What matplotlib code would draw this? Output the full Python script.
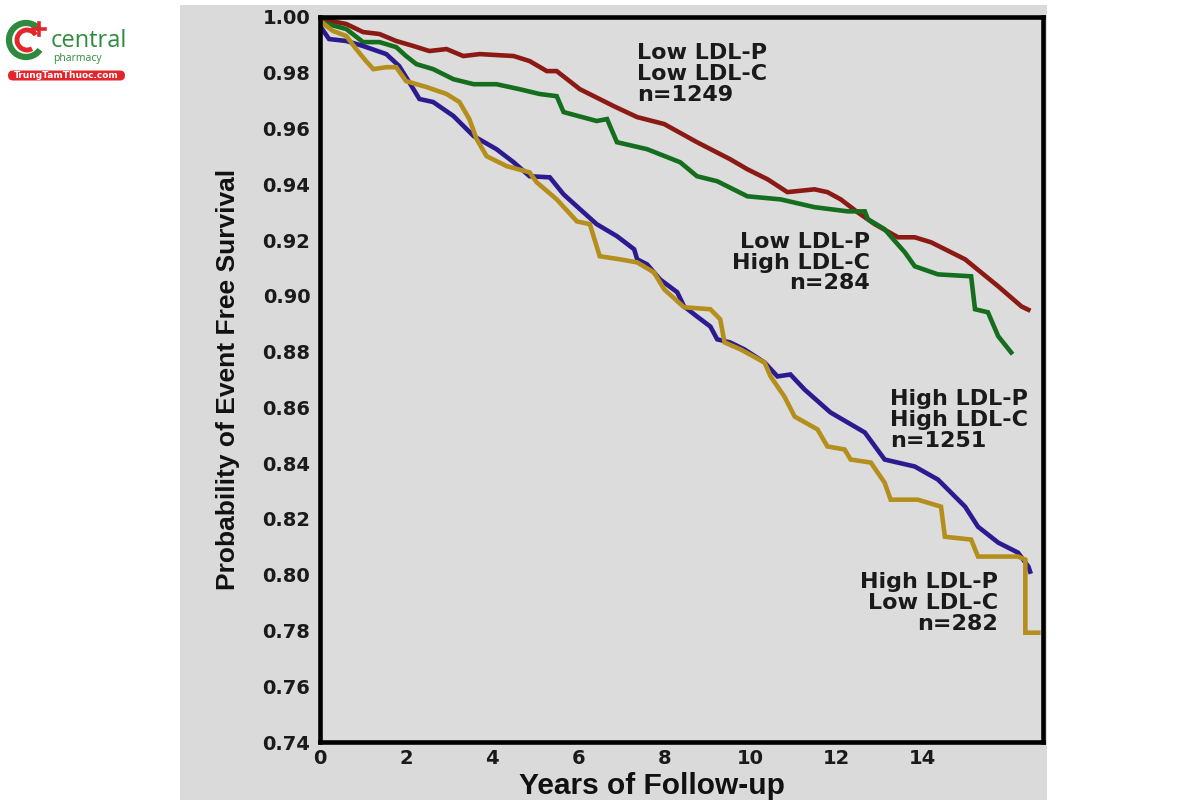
import matplotlib
matplotlib.use("Agg")
import matplotlib.pyplot as plt
from matplotlib.patches import Rectangle, FancyBboxPatch, Arc

# Kaplan-Meier style curves (years, survival)
t_lo_lo = [0, 0.61, 1.00, 1.38, 1.77, 2.17, 2.54, 2.94, 3.33, 3.71, 4.50, 4.87, 5.27, 5.50,
           6.04, 6.83, 7.37, 8.00, 8.76, 9.53, 9.93, 10.40, 10.86, 11.49, 11.79, 12.10,
           12.49, 12.89, 13.43, 13.82, 14.20, 14.99, 15.76, 16.30, 16.46]
s_lo_lo = [0.9993, 0.9975, 0.9946, 0.9939, 0.9914, 0.9896, 0.9878, 0.9885, 0.9860, 0.9867,
           0.9860, 0.9842, 0.9806, 0.9806, 0.9741, 0.9680, 0.9641, 0.9616, 0.9551, 0.9490,
           0.9454, 0.9418, 0.9372, 0.9382, 0.9372, 0.9346, 0.9300, 0.9257, 0.9210, 0.9210,
           0.9192, 0.9131, 0.9034, 0.8962, 0.8950]

t_lo_hi = [0, 0.61, 1.00, 1.38, 1.77, 2.00, 2.24, 2.63, 3.10, 3.57, 4.10, 4.64, 5.10, 5.50,
           5.66, 6.43, 6.67, 6.90, 7.60, 8.37, 8.76, 9.23, 9.93, 10.70, 11.49, 12.26, 12.66,
           12.73, 13.12, 13.36, 13.59, 13.82, 14.36, 15.13, 15.22, 15.52, 15.76, 16.06]
s_lo_hi = [0.9982, 0.9957, 0.9910, 0.9910, 0.9892, 0.9860, 0.9831, 0.9813, 0.9777, 0.9759,
           0.9759, 0.9741, 0.9724, 0.9716, 0.9659, 0.9627, 0.9634, 0.9551, 0.9526, 0.9479,
           0.9429, 0.9411, 0.9357, 0.9346, 0.9318, 0.9303, 0.9303, 0.9275, 0.9239, 0.9196,
           0.9156, 0.9106, 0.9077, 0.9070, 0.8952, 0.8941, 0.8855, 0.8797]

t_hi_hi = [0, 0.21, 0.61, 1.00, 1.54, 1.84, 2.07, 2.31, 2.63, 3.10, 3.57, 4.10, 4.50, 4.87,
           5.34, 5.66, 6.04, 6.43, 6.90, 7.30, 7.37, 7.60, 7.90, 8.30, 8.46, 8.76, 9.07, 9.23,
           9.53, 9.86, 10.33, 10.63, 10.93, 11.26, 11.86, 12.66, 13.12, 13.82, 14.36, 14.99,
           15.29, 15.76, 16.22, 16.46, 16.50]
s_hi_hi = [0.9968, 0.9921, 0.9914, 0.9896, 0.9867, 0.9824, 0.9767, 0.9706, 0.9695, 0.9645,
           0.9573, 0.9526, 0.9479, 0.9429, 0.9425, 0.9364, 0.9311, 0.9257, 0.9214, 0.9167,
           0.9131, 0.9113, 0.9059, 0.9013, 0.8962, 0.8926, 0.8890, 0.8844, 0.8833, 0.8808,
           0.8761, 0.8711, 0.8718, 0.8664, 0.8582, 0.8510, 0.8413, 0.8388, 0.8341, 0.8244,
           0.8172, 0.8115, 0.8079, 0.8029, 0.8011]

t_hi_lo = [0, 0.30, 0.61, 0.84, 1.07, 1.24, 1.54, 1.77, 2.00, 2.47, 2.94, 3.24, 3.47, 3.64,
           3.87, 4.34, 4.87, 5.03, 5.50, 5.97, 6.27, 6.50, 6.97, 7.37, 7.76, 8.00, 8.46, 9.07,
           9.30, 9.40, 9.77, 10.33, 10.47, 10.79, 11.03, 11.56, 11.79, 12.19, 12.33, 12.80,
           13.12, 13.26, 13.89, 14.43, 14.52, 15.13, 15.29, 16.22, 16.39, 16.39, 16.69]
s_hi_lo = [0.9986, 0.9950, 0.9932, 0.9885, 0.9842, 0.9813, 0.9820, 0.9820, 0.9770, 0.9749,
           0.9724, 0.9695, 0.9634, 0.9562, 0.9501, 0.9465, 0.9443, 0.9408, 0.9346, 0.9267,
           0.9257, 0.9142, 0.9131, 0.9120, 0.9084, 0.9023, 0.8959, 0.8952, 0.8916, 0.8833,
           0.8808, 0.8761, 0.8711, 0.8639, 0.8567, 0.8521, 0.8460, 0.8449, 0.8413, 0.8402,
           0.8330, 0.8269, 0.8269, 0.8244, 0.8136, 0.8126, 0.8065, 0.8065, 0.8054, 0.7792,
           0.7792]

x_ticks = [0, 2, 4, 6, 8, 10, 12, 14]
y_ticks = [0.74, 0.76, 0.78, 0.80, 0.82, 0.84, 0.86, 0.88, 0.90, 0.92, 0.94, 0.96, 0.98, 1.00]

fig = plt.figure(figsize=(12, 8), dpi=100)
fig.patch.set_facecolor("white")

# grey panel behind the chart
fig.patches.append(Rectangle((180 / 1200, 0), 867 / 1200, 795 / 800, transform=fig.transFigure,
                             facecolor="#dadada", edgecolor="none", zorder=-5))

ax = fig.add_axes([320 / 1200, 58 / 800, 723 / 1200, 725 / 800])
ax.set_zorder(2)
ax.set_facecolor("#dcdcdc")

ax.plot(t_lo_lo, s_lo_lo, color="#8c1a14", lw=3.3, solid_joinstyle="miter")
ax.plot(t_lo_hi, s_lo_hi, color="#156e1e", lw=3.3, solid_joinstyle="miter")
ax.plot(t_hi_hi, s_hi_hi, color="#2c1a90", lw=3.3, solid_joinstyle="miter")
ax.plot(t_hi_lo, s_hi_lo, color="#b58f1c", lw=3.3, solid_joinstyle="miter")

ax.set_xlim(0, 16.8)
ax.set_ylim(0.74, 1.0)
ax.set_xticks(x_ticks)
ax.set_yticks(y_ticks)
ax.set_yticklabels(["%.2f" % v for v in y_ticks])
ax.tick_params(length=0, labelsize=14, colors="#1a1a1a")
ax.tick_params(axis="y", pad=7)
ax.tick_params(axis="x", pad=5)
for lab in ax.get_xticklabels() + ax.get_yticklabels():
    lab.set_fontweight("bold")
for sp in ax.spines.values():
    sp.set_linewidth(3.3)
    sp.set_color("black")

ax.set_xlabel("Years of Follow-up", fontsize=21.5, fontweight="bold",
              family=["Liberation Sans", "DejaVu Sans"], color="#111111")
ax.xaxis.set_label_coords(0.459, -0.042)
ax.set_ylabel("Probability of Event Free Survival", fontsize=19, fontweight="bold",
              family=["Liberation Sans", "DejaVu Sans"], labelpad=16, color="#111111")

txt = dict(fontsize=16, fontweight="bold", color="#1a1a1a", linespacing=1.05, va="top")
ax.text(7.37, 0.9905, "Low LDL-P\nLow LDL-C\nn=1249", ha="left", multialignment="left", **txt)
ax.text(12.77, 0.9230, "Low LDL-P\nHigh LDL-C\nn=284", ha="right", multialignment="right", **txt)
ax.text(13.24, 0.8666, "High LDL-P\nHigh LDL-C\nn=1251", ha="left", multialignment="left", **txt)
ax.text(15.76, 0.8009, "High LDL-P\nLow LDL-C\nn=282", ha="right", multialignment="right", **txt)

# watermark logo, top left
lg = fig.add_axes([0, 1 - 90 / 800, 140 / 1200, 90 / 800])
lg.set_zorder(3)
lg.set_xlim(0, 140)
lg.set_ylim(90, 0)
lg.axis("off")
lg.add_patch(Arc((26, 40), 34, 34, theta1=35, theta2=320, color="#2e8b3e", lw=4.5))
lg.add_patch(Arc((27, 40), 20, 20, theta1=60, theta2=330, color="#e3262b", lw=3.5))
lg.plot([39, 39], [23, 35], color="#e3262b", lw=2.6)
lg.plot([33, 45], [29, 29], color="#e3262b", lw=2.6)
lg.text(51, 41, "central", fontsize=17, color="#2e8b3e", va="center", ha="left",
        family="Open Sans")
lg.text(53, 59, "pharmacy", fontsize=7.5, color="#2e8b3e", va="center", ha="left",
        family="Open Sans")
lg.add_patch(FancyBboxPatch((8, 70.5), 117, 10, boxstyle="round,pad=0,rounding_size=5",
                            facecolor="#e3262b", edgecolor="none"))
lg.text(66, 75.8, "TrungTamThuoc.com", fontsize=6.5, color="white", va="center", ha="center",
        fontweight="bold")

plt.savefig("out.png", dpi=100)
